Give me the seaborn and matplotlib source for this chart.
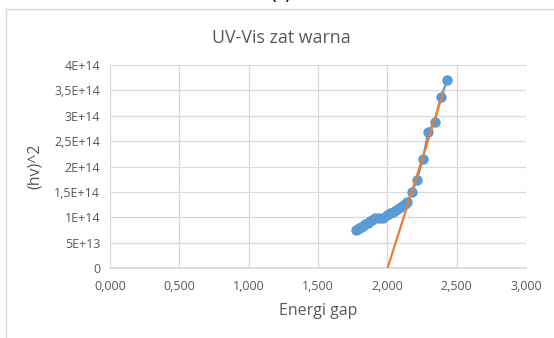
import matplotlib
matplotlib.use("Agg")
import matplotlib.pyplot as plt
import seaborn as sns
import pandas as pd
import numpy as np

# Data
energy = [1.772, 1.785, 1.798, 1.812, 1.826, 1.842, 1.858, 1.874, 1.892, 1.912,
          1.940, 1.972, 1.995, 2.018, 2.040, 2.062, 2.084, 2.106, 2.126, 2.145,
          2.177, 2.213, 2.257, 2.293, 2.341, 2.384, 2.433]
hv2 = [0.74e14, 0.77e14, 0.79e14, 0.81e14, 0.83e14, 0.86e14, 0.88e14, 0.92e14, 0.95e14, 0.98e14,
       0.99e14, 0.99e14, 1.05e14, 1.08e14, 1.11e14, 1.15e14, 1.19e14, 1.23e14, 1.27e14, 1.31e14,
       1.49e14, 1.73e14, 2.15e14, 2.67e14, 2.88e14, 3.37e14, 3.70e14]
fit_x = [2.002, 2.406]
fit_y = [0.0, 3.48e14]

x_ticks = [0.0, 0.5, 1.0, 1.5, 2.0, 2.5, 3.0]
x_tick_labels = ["0,000", "0,500", "1,000", "1,500", "2,000", "2,500", "3,000"]
y_ticks = [0, 0.5e14, 1e14, 1.5e14, 2e14, 2.5e14, 3e14, 3.5e14, 4e14]
y_tick_labels = ["0", "5E+13", "1E+14", "1,5E+14", "2E+14", "2,5E+14", "3E+14", "3,5E+14", "4E+14"]

title = "UV-Vis zat warna"
x_label = "Energi gap"
y_label = "(hv)^2"

sns.set_theme(style="white")
plt.rcParams['font.family'] = ['Open Sans', 'DejaVu Sans']

blue = "#5B9BD5"
orange = "#ED7D31"
grid_c = "#D9D9D9"
text_c = "#595959"

fig = plt.figure(figsize=(5.54, 3.38), dpi=100)
ax = fig.add_axes([110/554, 1-268/338, (526-110)/554, (268-65)/338])

df = pd.DataFrame({"x": energy, "y": hv2})
sns.lineplot(data=df, x="x", y="y", ax=ax, color=blue, linewidth=1.5, sort=False,
             marker="o", markersize=7.5, markeredgewidth=0, zorder=3)
fit_df = pd.DataFrame({"x": fit_x, "y": fit_y})
sns.lineplot(data=fit_df, x="x", y="y", ax=ax, color=orange, linewidth=1.6, zorder=4)

ax.set_xlim(0, 3.0)
ax.set_ylim(0, 4e14)
ax.set_xticks(x_ticks)
ax.set_xticklabels(x_tick_labels)
ax.set_yticks(y_ticks)
ax.set_yticklabels(y_tick_labels)
ax.tick_params(axis="both", labelsize=9, colors=text_c, length=0)
ax.tick_params(axis="x", pad=9)
ax.tick_params(axis="y", pad=7)
ax.grid(True, color=grid_c, linewidth=0.9)
for s in ax.spines.values():
    s.set_visible(False)
ax.spines["bottom"].set_visible(True)
ax.spines["bottom"].set_color(grid_c)
ax.set_axisbelow(True)

ax.set_xlabel(x_label, fontsize=11.5, color=text_c, labelpad=7)
ax.set_ylabel(y_label, fontsize=11.5, color=text_c, labelpad=8)

fig.text(281/554, 1 - 38/338, title, ha="center", va="center", fontsize=12.8, color=text_c)

# Chart-area border (top and left visible) and clipped caption above
fig.add_artist(plt.Line2D([6/554, 1], [1-9/338, 1-9/338], color="#D9D9D9", linewidth=1, transform=fig.transFigure))
fig.add_artist(plt.Line2D([6/554, 6/554], [0, 1-9/338], color="#D9D9D9", linewidth=1, transform=fig.transFigure))
fig.text(281/554, 1 - 3/338, "(c)", ha="center", va="bottom", fontsize=14, color="black")

fig.savefig("out.png", dpi=100)
